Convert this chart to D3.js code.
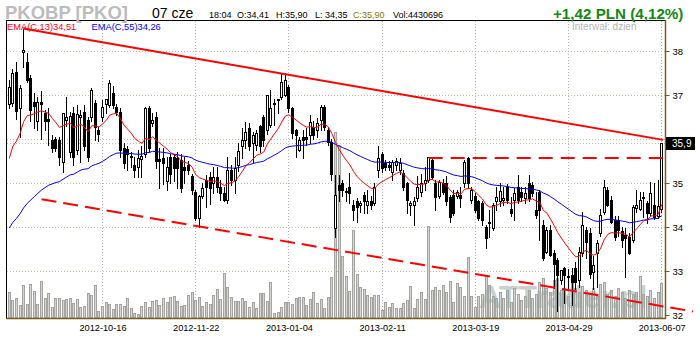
<!DOCTYPE html>
<html lang="pl">
<head>
<meta charset="utf-8">
<title>PKOBP [PKO]</title>
<script src="https://cdn.jsdelivr.net/npm/d3@7/dist/d3.min.js"></script>
<style>
  html, body { margin: 0; padding: 0; background: #fff; }
  svg { display: block; }
  text { font-family: "Liberation Sans", Arial, sans-serif; }
</style>
</head>
<body>
<svg id="chart" width="700" height="340"></svg>
<script>
// PKO BP daily candles, 2012-09-10 .. 2013-06-07 (PLN), volume in millions of shares
const opens = [
  36.80, 36.81, 37.52, 36.70, 37.98, 37.76, 37.38, 36.85, 36.40, 36.85,
  36.58, 36.45, 35.98, 36.00, 35.98, 35.48, 36.43, 35.70, 36.58, 35.75,
  36.50, 36.62, 36.43, 36.50, 36.81, 36.20, 36.50, 36.80, 36.77, 37.04,
  36.73, 36.62, 35.80, 35.77, 35.62, 35.40, 35.37, 35.55, 35.67, 36.70,
  36.36, 36.50, 35.55, 35.57, 35.05, 35.60, 35.60, 35.57, 35.52, 35.37,
  35.40, 35.15, 34.80, 34.20, 34.70, 35.07, 35.14, 34.99, 35.14, 34.92,
  34.77, 34.62, 35.30, 35.07, 35.42, 35.83, 35.98, 36.24, 35.90, 35.87,
  36.30, 36.50, 36.20, 36.32, 36.79, 36.88, 36.95, 37.00, 37.19, 36.70,
  36.20, 35.75, 36.05, 36.05, 36.09, 36.28, 36.20, 36.43, 36.73, 36.20,
  35.94, 33.98, 34.96, 35.00, 34.80, 34.92, 34.50, 34.58, 34.50, 34.73,
  34.49, 34.59, 34.54, 35.30, 35.67, 35.45, 35.40, 35.26, 35.40, 35.30,
  35.22, 34.99, 34.50, 34.50, 34.66, 34.80, 34.99, 35.07, 35.52, 34.99,
  34.70, 35.00, 34.99, 34.69, 34.73, 34.70, 34.73, 34.99, 35.56, 34.62,
  34.70, 34.58, 34.55, 34.00, 34.10, 33.97, 34.58, 34.58, 34.62, 34.92,
  34.42, 34.61, 34.92, 34.80, 34.65, 34.99, 34.96, 34.39, 34.80, 34.05,
  33.44, 33.93, 33.40, 33.25, 32.80, 33.06, 32.88, 32.91, 33.06, 32.80,
  33.41, 33.94, 33.86, 32.98, 33.40, 33.86, 34.35, 34.85, 34.62, 34.16,
  34.16, 33.90, 33.82, 33.78, 33.70, 34.43, 34.42, 34.65, 34.54, 34.31,
  34.50, 34.24, 34.41
];
const highs = [
  37.35, 37.60, 37.75, 37.22, 38.50, 37.95, 37.45, 37.05, 36.95, 37.10,
  36.66, 36.70, 36.10, 36.05, 36.05, 36.60, 36.95, 36.62, 36.73, 36.78,
  36.66, 36.78, 36.50, 37.15, 36.89, 36.28, 36.89, 36.92, 37.34, 37.20,
  36.80, 36.70, 35.90, 35.83, 35.70, 35.60, 35.75, 35.83, 36.73, 36.75,
  36.60, 36.62, 35.80, 35.80, 35.60, 35.65, 35.65, 35.70, 35.67, 35.60,
  35.50, 35.20, 34.85, 34.73, 35.00, 35.18, 35.25, 35.37, 35.37, 35.07,
  34.92, 35.60, 35.40, 35.60, 35.90, 36.24, 36.39, 36.36, 36.17, 36.20,
  36.32, 36.55, 37.00, 37.11, 36.92, 36.92, 37.49, 37.50, 37.23, 36.73,
  36.22, 36.05, 36.20, 36.24, 36.54, 36.40, 36.47, 36.77, 36.77, 36.28,
  36.00, 35.18, 35.18, 35.07, 34.88, 35.22, 34.61, 34.65, 34.60, 34.80,
  34.84, 34.70, 35.00, 35.83, 35.71, 35.52, 35.50, 35.52, 35.56, 35.56,
  35.30, 35.03, 34.60, 34.69, 35.15, 35.20, 35.37, 35.60, 35.60, 35.07,
  35.07, 35.10, 35.15, 34.73, 34.84, 34.84, 34.92, 35.52, 35.60, 34.92,
  34.77, 34.61, 34.60, 34.05, 34.39, 34.54, 34.92, 35.00, 34.92, 34.98,
  34.69, 34.88, 35.18, 34.90, 34.92, 35.18, 35.02, 34.80, 34.84, 34.15,
  34.00, 34.05, 33.48, 33.30, 33.02, 33.10, 33.05, 33.06, 33.21, 33.55,
  34.35, 34.00, 33.97, 33.33, 33.70, 34.40, 35.07, 34.90, 34.70, 34.25,
  34.24, 34.00, 33.97, 33.86, 34.50, 34.84, 34.80, 34.80, 34.60, 35.03,
  35.00, 35.07, 35.90
];
const lows = [
  36.70, 36.75, 36.45, 36.05, 37.63, 37.30, 36.40, 36.25, 36.20, 36.00,
  36.20, 35.87, 35.70, 35.72, 35.42, 35.24, 36.30, 35.60, 35.40, 35.65,
  35.48, 35.75, 35.50, 36.40, 35.98, 35.95, 36.40, 36.60, 36.73, 36.70,
  36.55, 35.60, 35.35, 35.30, 35.37, 35.14, 35.14, 35.14, 35.60, 35.70,
  36.30, 35.35, 34.88, 34.97, 34.84, 35.00, 35.05, 34.88, 34.80, 35.00,
  35.20, 34.75, 34.15, 34.00, 34.65, 34.46, 34.53, 34.77, 34.80, 34.62,
  34.58, 34.54, 34.95, 34.77, 35.27, 35.56, 35.80, 35.75, 35.48, 35.75,
  35.70, 35.83, 36.12, 36.28, 36.32, 36.58, 36.90, 36.98, 36.62, 36.02,
  35.60, 35.72, 35.56, 35.87, 35.90, 36.00, 36.05, 36.20, 36.20, 35.87,
  35.07, 33.78, 34.58, 34.70, 34.58, 34.55, 34.16, 34.12, 34.35, 34.31,
  34.31, 34.40, 34.50, 35.14, 35.26, 35.30, 35.30, 35.07, 35.30, 35.20,
  34.84, 34.31, 34.27, 34.05, 34.60, 34.70, 34.84, 35.03, 35.10, 34.39,
  34.65, 34.75, 34.49, 34.12, 34.27, 34.65, 34.46, 34.92, 34.88, 34.54,
  34.35, 34.16, 34.05, 33.52, 33.78, 33.94, 34.39, 34.47, 34.50, 34.55,
  34.25, 34.16, 34.55, 34.60, 34.55, 34.58, 34.70, 34.20, 33.70, 33.25,
  33.40, 33.33, 32.62, 32.10, 32.70, 32.27, 32.60, 32.23, 32.60, 32.64,
  33.35, 33.30, 32.83, 32.60, 32.64, 33.80, 34.30, 34.48, 34.10, 33.70,
  33.80, 33.55, 32.87, 33.38, 33.66, 34.35, 34.38, 34.23, 34.08, 34.28,
  34.18, 34.20, 34.35
];
const closes = [
  37.19, 37.49, 36.64, 37.17, 38.02, 37.34, 36.65, 36.76, 36.84, 36.80,
  36.42, 36.42, 35.79, 35.80, 35.58, 36.58, 36.50, 36.52, 35.60, 36.57,
  36.55, 35.83, 35.60, 37.11, 36.28, 36.12, 36.73, 36.90, 37.27, 36.77,
  36.62, 35.75, 35.45, 35.67, 35.58, 35.30, 35.56, 35.62, 36.70, 35.80,
  36.43, 35.50, 35.50, 35.45, 35.37, 35.20, 35.33, 35.35, 34.88, 35.30,
  35.30, 34.85, 34.20, 34.70, 34.88, 34.90, 34.88, 35.14, 34.92, 34.77,
  34.62, 35.30, 35.07, 35.33, 35.72, 35.98, 36.17, 35.83, 36.09, 36.13,
  35.83, 35.98, 37.00, 36.70, 36.82, 36.90, 37.30, 37.34, 36.70, 36.13,
  36.10, 35.98, 35.98, 36.00, 36.39, 36.10, 36.36, 36.73, 36.28, 35.94,
  35.20, 34.73, 34.83, 34.84, 34.82, 34.78, 34.39, 34.46, 34.54, 34.58,
  34.59, 34.50, 34.92, 35.56, 35.33, 35.37, 35.37, 35.48, 35.50, 35.45,
  34.92, 34.61, 34.54, 34.60, 34.90, 35.00, 35.07, 35.60, 35.14, 34.69,
  35.03, 34.80, 34.60, 34.23, 34.31, 34.80, 34.65, 35.48, 34.99, 34.85,
  34.39, 34.20, 34.16, 33.74, 34.12, 34.50, 34.69, 34.81, 34.67, 34.61,
  34.31, 34.77, 34.61, 34.69, 34.77, 34.65, 34.77, 34.27, 34.39, 33.29,
  33.93, 33.36, 33.17, 32.91, 33.02, 32.91, 32.87, 32.76, 32.76, 33.44,
  34.05, 33.66, 32.94, 33.13, 33.63, 34.28, 34.92, 34.51, 34.12, 33.78,
  33.94, 33.70, 33.75, 33.40, 34.46, 34.50, 34.61, 34.69, 34.31, 34.77,
  34.23, 34.48, 35.90
];
const volumes = [
  3.25, 2.28, 2.49, 1.65, 4.18, 1.73, 4.27, 3.42, 1.77, 4.68,
  2.49, 3.13, 1.39, 2.49, 2.49, 2.28, 2.41, 2.53, 1.86, 2.37,
  1.35, 1.52, 3.13, 2.91, 4.14, 0.89, 1.52, 1.99, 1.73, 1.14,
  1.73, 1.73, 1.52, 2.49, 1.23, 0.67, 0.54, 1.52, 1.99, 1.39,
  2.15, 2.28, 1.65, 2.53, 1.99, 2.62, 2.75, 2.15, 1.52, 1.65,
  2.87, 3.25, 2.28, 2.70, 1.52, 1.99, 1.73, 2.87, 3.67, 2.37,
  5.66, 3.89, 2.62, 2.19, 2.19, 2.49, 2.19, 1.35, 2.06, 1.23,
  3.20, 3.20, 2.19, 4.52, 0.67, 0.80, 1.43, 1.99, 2.06, 1.73,
  2.49, 2.62, 2.70, 1.68, 2.41, 3.25, 1.86, 2.44, 1.23, 2.66,
  5.23, 23.5, 21.9, 7.85, 5.32, 3.46, 11.1, 5.57, 3.96, 3.63,
  2.91, 2.70, 2.87, 2.87, 1.01, 2.03, 1.35, 1.94, 1.23, 1.23,
  1.94, 2.28, 4.05, 1.23, 2.37, 3.29, 2.37, 11.6, 3.54, 3.89,
  3.54, 4.18, 3.33, 4.65, 2.06, 4.43, 3.92, 2.78, 7.72, 2.78,
  1.39, 2.78, 3.04, 5.44, 4.18, 2.78, 2.53, 3.29, 2.53, 3.54,
  2.03, 3.80, 3.04, 2.28, 2.78, 3.54, 2.53, 3.04, 4.56, 5.06,
  3.80, 3.29, 4.81, 5.06, 3.54, 3.80, 2.78, 4.43, 3.80, 3.29,
  4.05, 3.54, 3.04, 3.80, 2.78, 4.30, 4.56, 3.04, 3.54, 2.78,
  3.80, 3.29, 2.53, 3.54, 3.04, 3.29, 5.32, 3.04, 2.78, 3.54,
  2.53, 3.29, 4.43
];

// date axis: one label every 26 sessions
const tickBars = [26, 52, 78, 104, 130, 156, 182];
const tickLabels = ["2012-10-16", "2012-11-22", "2013-01-04", "2013-02-11", "2013-03-19", "2013-04-29", "2013-06-07"];
const priceTicks = [32, 33, 34, 35, 36, 37, 38];

// moving averages carried in from earlier sessions
const ema13Start = 35.56;
const ema55Start = 33.98;

// hand-drawn analysis lines, as [session, price] pairs
const resistanceLine = [[3.9, 38.51], [182.4, 35.98]];
const supportLine = [[9.0, 34.63], [190.7, 32.08]];
const breakoutLevel = [[117, 35.57], [183.7, 35.57]];

// header
const symbolTitle = "PKOBP [PKO]";
const sessionDate = "07 cze";
const quoteFields = ["18:04", "O:34,41", "H:35,90", "L: 34,35", "C:35,90", "Vol:4430696"];
const changeText = "+1,42 PLN (4,12%)";
const intervalText = "Interwał: dzień";

function ema(values, period, first) {
  const k = 2 / (period + 1);
  const out = [first];
  for (let i = 1; i < values.length; i++) out.push(out[i - 1] + k * (values[i] - out[i - 1]));
  return out;
}
const ema13 = ema(closes, 13, ema13Start);
const ema55 = ema(closes, 55, ema55Start);
const plNum = v => d3.format(".2f")(v).replace(".", ",");

const svg = d3.select("#chart");
const n = closes.length;
const x = d3.scaleLinear().domain([0, n - 1]).range([9.3, 661.7]);
const y = d3.scaleLinear().domain([32, 38]).range([315, 51]);
const yVol = d3.scaleLinear().domain([0, 25]).range([318, 120.5]);

const plotL = 6, plotR = 665, plotT = 20, plotB = 318;
const col = i => Math.floor(x(i));

// grid
const grid = svg.append("g");
grid.selectAll("line.h").data(priceTicks.filter(p => p > 32).concat([closes[n - 1]])).join("line")
  .attr("x1", plotL + 1).attr("x2", plotR)
  .attr("y1", d => Math.round(y(d)) + 0.5).attr("y2", d => Math.round(y(d)) + 0.5)
  .attr("stroke", "#c8bca6").attr("stroke-width", 1).attr("stroke-dasharray", "1,2");
grid.selectAll("line.v").data(tickBars).join("line")
  .attr("x1", d => col(d) + 0.5).attr("x2", d => col(d) + 0.5)
  .attr("y1", plotT + 1).attr("y2", plotB)
  .attr("stroke", "#b4b4b4").attr("stroke-width", 1).attr("stroke-dasharray", "1,2");

// volume
svg.append("g").selectAll("rect").data(volumes).join("rect")
  .attr("x", (d, i) => col(i) - 0.5)
  .attr("width", 2)
  .attr("y", d => Math.round(yVol(d)) + 0.5)
  .attr("height", d => Math.max(0, plotB - Math.round(yVol(d)) - 1))
  .attr("fill", "#d4d4d2").attr("stroke", "#a4a4a0").attr("stroke-width", 1);

// watermark
svg.append("text").attr("x", 479).attr("y", 308)
  .attr("font-size", 31).attr("font-weight", "bold")
  .attr("fill", "#9aaaa2").attr("fill-opacity", 0.55)
  .text("ATTrader.pl");

// candles
const candles = svg.append("g").selectAll("g").data(closes).join("g");
candles.append("line")
  .attr("x1", (d, i) => col(i) + 0.5).attr("x2", (d, i) => col(i) + 0.5)
  .attr("y1", (d, i) => Math.round(y(highs[i])))
  .attr("y2", (d, i) => Math.round(y(lows[i])) + 1)
  .attr("stroke", "#000").attr("stroke-width", 1);
candles.append("rect")
  .attr("x", (d, i) => col(i) - 0.5)
  .attr("width", 2)
  .attr("y", (d, i) => Math.round(y(Math.max(opens[i], d))) + 0.5)
  .attr("height", (d, i) => Math.max(1, Math.round(y(Math.min(opens[i], d))) - Math.round(y(Math.max(opens[i], d)))))
  .attr("fill", (d, i) => d >= opens[i] ? "#fff" : "#000")
  .attr("stroke", "#000").attr("stroke-width", 1);

// moving averages
const avgLine = d3.line().x((d, i) => x(i)).y(d => y(d));
svg.append("path").attr("d", avgLine(ema55)).attr("fill", "none").attr("stroke", "#0000ff").attr("stroke-width", 1);
svg.append("path").attr("d", avgLine(ema13)).attr("fill", "none").attr("stroke", "#ff0000").attr("stroke-width", 1);

// analysis lines
const segLine = d3.line().x(d => x(d[0])).y(d => y(d[1]));
svg.append("path").attr("d", segLine(resistanceLine)).attr("fill", "none").attr("stroke", "#ff0000").attr("stroke-width", 2);
svg.append("path").attr("d", segLine(supportLine)).attr("fill", "none").attr("stroke", "#ff0000").attr("stroke-width", 2).attr("stroke-dasharray", "15,7");
svg.append("path").attr("d", segLine(breakoutLevel)).attr("fill", "none").attr("stroke", "#ff0000").attr("stroke-width", 2).attr("stroke-dasharray", "14,8");

// frame
svg.append("line").attr("x1", plotL).attr("x2", plotR).attr("y1", plotT + 0.5).attr("y2", plotT + 0.5).attr("stroke", "#000");
svg.append("line").attr("x1", plotL + 0.5).attr("x2", plotL + 0.5).attr("y1", plotT).attr("y2", plotB).attr("stroke", "#000");
svg.append("line").attr("x1", plotL).attr("x2", plotR + 1).attr("y1", plotB + 0.5).attr("y2", plotB + 0.5).attr("stroke", "#7d5c22").attr("stroke-width", 1.5);
svg.append("line").attr("x1", plotR + 0.5).attr("x2", plotR + 0.5).attr("y1", plotT).attr("y2", plotB + 1).attr("stroke", "#7d5c22").attr("stroke-width", 1.5);

// price axis (the 36 label sits partly under the last-price marker)
const yAxis = svg.append("g").attr("transform", `translate(${plotR + 0.5},0)`)
  .call(d3.axisRight(y).tickValues(priceTicks).tickSize(4).tickSizeOuter(0).tickPadding(3).tickFormat(d3.format("d")));
yAxis.select(".domain").remove();
yAxis.selectAll(".tick line").attr("stroke", "#7d5c22");
yAxis.selectAll(".tick text").attr("font-size", 9.5).attr("fill", "#000").attr("font-family", "'Liberation Sans', Arial, sans-serif");

// date axis
const xAxis = svg.append("g").attr("transform", `translate(0,${plotB})`)
  .call(d3.axisBottom(x).tickValues(tickBars).tickSize(0).tickPadding(6).tickFormat((d, k) => tickLabels[k]));
xAxis.select(".domain").remove();
xAxis.selectAll(".tick text").attr("font-size", 9.2).attr("fill", "#000").attr("font-family", "'Liberation Sans', Arial, sans-serif");

// last price marker
const lastY = y(closes[n - 1]);
svg.append("rect").attr("x", plotR + 1).attr("y", Math.round(lastY) - 6).attr("width", 29).attr("height", 13).attr("fill", "#000");
svg.append("text").attr("x", 672).attr("y", Math.round(lastY) + 4).attr("font-size", 10).attr("fill", "#fff")
  .text(plNum(closes[n - 1]).replace(/0$/, ""));

// legend
svg.append("text").attr("x", 7).attr("y", 30).attr("font-size", 9.3).attr("fill", "#ff0000").text("EMA(C,13)" + plNum(ema13[n - 1]));
svg.append("text").attr("x", 91.5).attr("y", 30).attr("font-size", 9.3).attr("fill", "#0000ff").text("EMA(C,55)" + plNum(ema55[n - 1]));
svg.append("text").attr("x", 572).attr("y", 30).attr("font-size", 10).attr("fill", "#b4b4b4").text(intervalText);

// header
svg.append("text").attr("x", 5).attr("y", 18.5).attr("font-size", 18.5).attr("font-weight", "bold").attr("fill", "#bcbcbc").text(symbolTitle);
svg.append("text").attr("x", 152).attr("y", 17.5).attr("font-size", 14).attr("fill", "#000").text(sessionDate);
const fieldX = [209, 237, 276, 315, 353, 393];
svg.append("g").selectAll("text").data(quoteFields).join("text")
  .attr("x", (d, i) => fieldX[i]).attr("y", 17.5).attr("font-size", 9)
  .attr("fill", (d, i) => i === 4 ? "#8a7800" : "#000")
  .text(d => d);
svg.append("text").attr("x", 553).attr("y", 19).attr("font-size", 15.2).attr("font-weight", "bold").attr("fill", "#138a13").text(changeText);
</script>
</body>
</html>
